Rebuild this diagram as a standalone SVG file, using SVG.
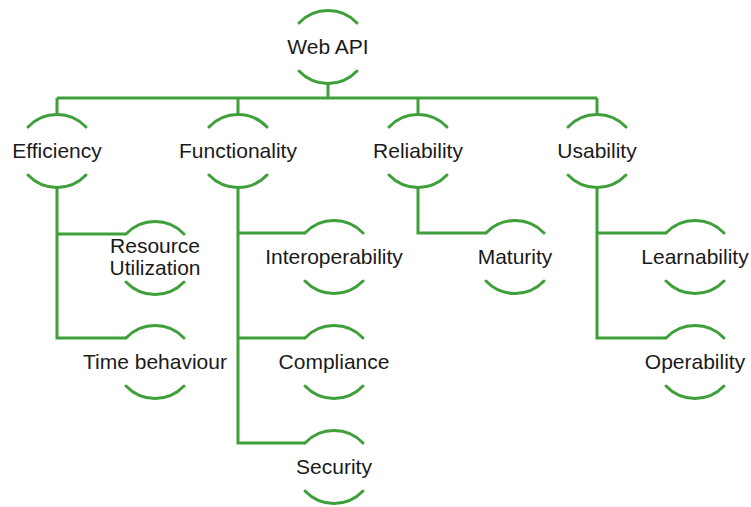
<svg xmlns="http://www.w3.org/2000/svg" xmlns:xlink="http://www.w3.org/1999/xlink" width="751" height="507" viewBox="0 0 751 507">
<style>
.arc{fill:none;stroke:#3f9f3a;stroke-width:3;stroke-linecap:round}
.ln{fill:none;stroke:#3f9f3a;stroke-width:3;stroke-linejoin:miter}
text{font-family:"Liberation Sans",Arial,sans-serif;font-size:21px;fill:#1a1a1a;text-anchor:middle}
</style>
<defs>
<path id="nd" class="arc" d="M-29,-24 A40,40 0 0 1 29,-24 M-29,24 A40,40 0 0 0 29,24"/>
</defs>
<rect width="751" height="507" fill="#ffffff"/>
<g id="connectors" class="ln">
<path d="M328,83 V98 M57,98 H597 M57,98 V115 M238,98 V115 M418,98 V115 M597,98 V115"/>
<path d="M57,187 V338 H126 M57,234 H126"/>
<path d="M238,187 V443 H305 M238,233 H305 M238,338 H305"/>
<path d="M418,187 V233 H486"/>
<path d="M597,187 V338 H666 M597,233 H666"/>
</g>
<g id="webapi"><use href="#nd" x="328" y="47"/><text x="328" y="54">Web API</text></g>
<g id="efficiency"><use href="#nd" x="57" y="151"/><text x="57" y="158">Efficiency</text></g>
<g id="functionality"><use href="#nd" x="238" y="151"/><text x="238" y="158">Functionality</text></g>
<g id="reliability"><use href="#nd" x="418" y="151"/><text x="418" y="158">Reliability</text></g>
<g id="usability"><use href="#nd" x="597" y="151"/><text x="597" y="158">Usability</text></g>
<g id="resource"><use href="#nd" x="155" y="258"/><text x="155" y="253">Resource</text><text x="155" y="275">Utilization</text></g>
<g id="time"><use href="#nd" x="155" y="362"/><text x="155" y="369">Time behaviour</text></g>
<g id="interop"><use href="#nd" x="334" y="257"/><text x="334" y="264">Interoperability</text></g>
<g id="compliance"><use href="#nd" x="334" y="362"/><text x="334" y="369">Compliance</text></g>
<g id="security"><use href="#nd" x="334" y="467"/><text x="334" y="474">Security</text></g>
<g id="maturity"><use href="#nd" x="515" y="257"/><text x="515" y="264">Maturity</text></g>
<g id="learnability"><use href="#nd" x="695" y="257"/><text x="695" y="264">Learnability</text></g>
<g id="operability"><use href="#nd" x="695" y="362"/><text x="695" y="369">Operability</text></g>
</svg>
